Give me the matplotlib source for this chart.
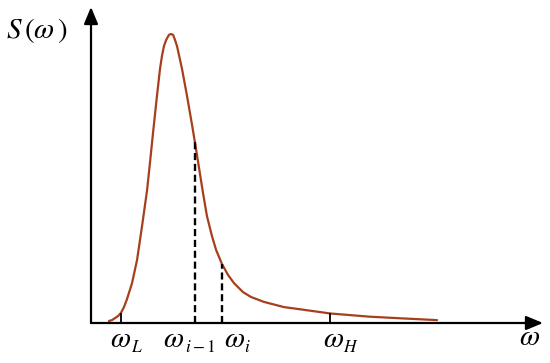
import numpy as np
import matplotlib
matplotlib.use('Agg')
import matplotlib.pyplot as plt

plt.rcParams['mathtext.fontset'] = 'stix'
plt.rcParams['font.family'] = ['STIXGeneral', 'DejaVu Serif']

# spectrum curve (omega, S normalised to peak = 1)
omega = [0.100, 0.117, 0.134, 0.151, 0.167, 0.184, 0.201, 0.229, 0.257, 0.285,
         0.313, 0.329, 0.346, 0.368, 0.385, 0.396, 0.407, 0.419, 0.435, 0.446,
         0.458, 0.469, 0.480, 0.491, 0.508, 0.536, 0.564, 0.586, 0.603, 0.625,
         0.647, 0.675, 0.698, 0.731, 0.765, 0.798, 0.848, 0.893, 0.965, 1.077,
         1.161, 1.334, 1.551, 1.735, 1.931]
S = [0.007, 0.010, 0.017, 0.024, 0.035, 0.055, 0.083, 0.138, 0.218, 0.336,
     0.460, 0.554, 0.657, 0.785, 0.879, 0.924, 0.958, 0.979, 0.997, 1.000,
     0.997, 0.979, 0.958, 0.927, 0.879, 0.785, 0.685, 0.602, 0.536, 0.450,
     0.370, 0.301, 0.253, 0.204, 0.166, 0.138, 0.107, 0.090, 0.073, 0.055,
     0.048, 0.033, 0.022, 0.016, 0.010]

# marked frequencies
w_low, w_high = 0.167, 1.334
w_prev, w_i = 0.578, 0.732

subs = ['L', 'i-1', 'i', 'H']

# pixel -> data scale of the reference layout
sx, sy = 179.2, 289.0
x0, y0 = 91, 323


def px(x, y):
    return (x - x0) / sx, (y0 - y) / sy


fig = plt.figure(figsize=(5.5, 3.63), dpi=100)
ax = fig.add_axes([0, 0, 1, 1])
ax.set_xlim(-x0 / sx, (550 - x0) / sx)
ax.set_ylim(-(363 - y0) / sy, y0 / sy)
ax.axis('off')

# axes with arrows
arr = dict(arrowstyle='-|>,head_length=0.6,head_width=0.25', color='k',
           lw=1.6, mutation_scale=17, shrinkA=0, shrinkB=0)
ax.annotate('', xy=px(91, 7), xytext=(0, 0), arrowprops=arr)
ax.annotate('', xy=px(543, y0), xytext=(0, 0), arrowprops=arr)

# spectrum
ax.plot(omega, S, color='#a63f1d', lw=1.6, solid_capstyle='round')

# dashed ordinates
for w in (w_prev, w_i):
    ax.plot([w, w], [0, np.interp(w, omega, S)], color='k', lw=1.7,
            ls=(0, (3, 1.6)))

# small ticks at omega_L, omega_H
for w in (w_low, w_high):
    ax.plot([w, w], [0, 0.032], color='k', lw=1.3)

# omega labels with smaller subscripts
w_left = [110, 163, 224, 323]
s_left = [131, 185, 244, 343]
for sub, wl, sl in zip(subs, w_left, s_left):
    ax.text(*px(wl, 347), r'$\omega$', fontsize=21, ha='left', va='baseline')
    ax.text(*px(sl, 352), '$' + sub + '$', fontsize=12.5, ha='left',
            va='baseline')
ax.text(*px(519, 345), r'$\omega$', fontsize=21, ha='left', va='baseline')
ax.text(*px(6, 38), r'$S\,(\omega\,)$', fontsize=21, ha='left', va='baseline')

fig.savefig('out.png', dpi=100)
